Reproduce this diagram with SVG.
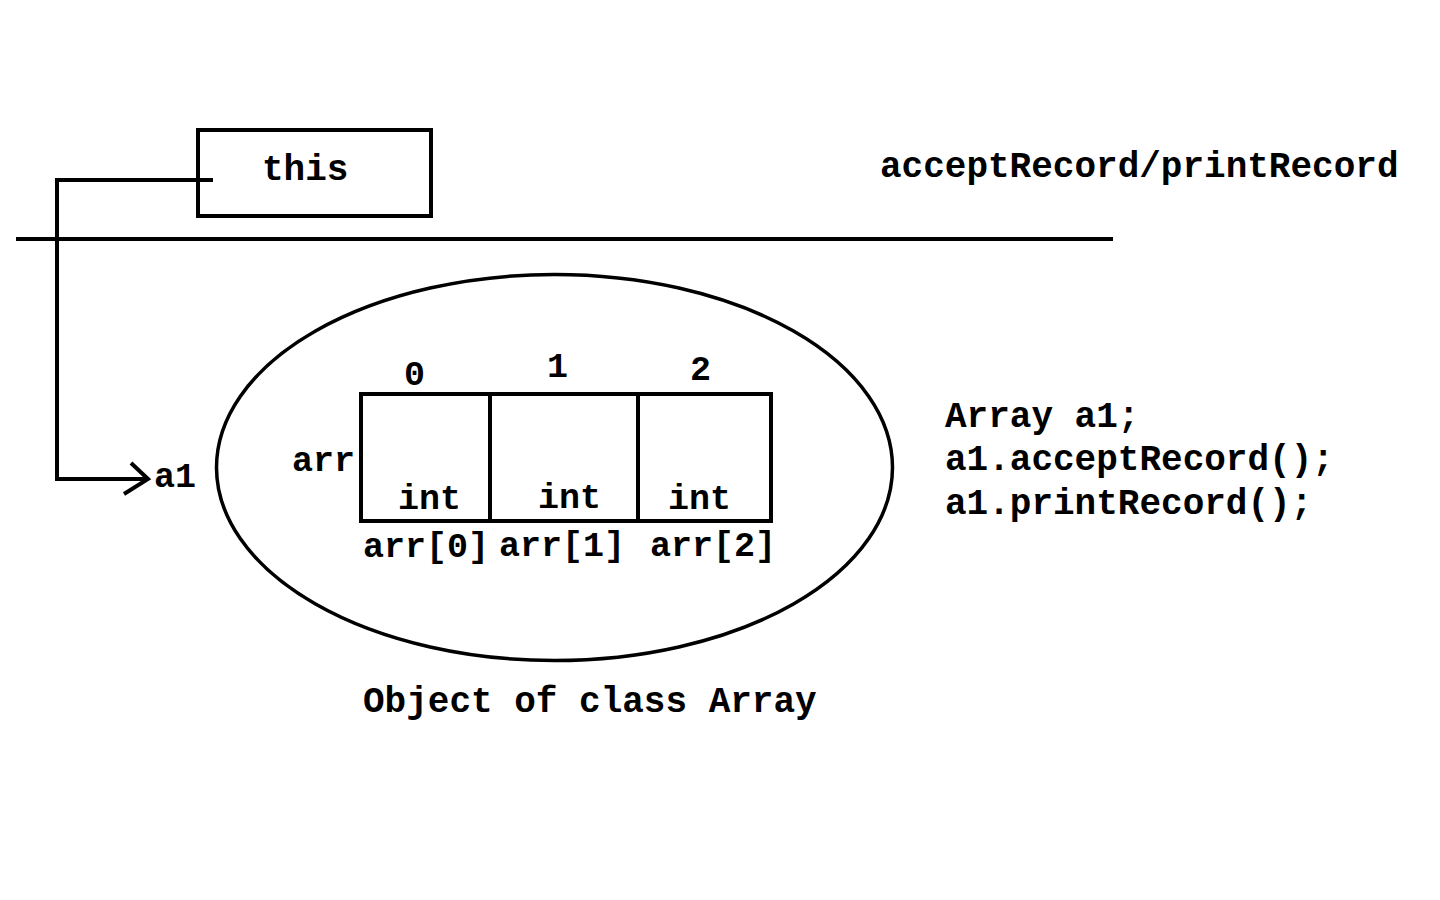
<svg xmlns="http://www.w3.org/2000/svg" width="1440" height="900" viewBox="0 0 1440 900">
<style>
text{font-family:"Liberation Mono","Courier New",monospace;font-weight:bold;font-size:36px;fill:#000}
.s{font-size:35px}
.ln{fill:none;stroke:#000;stroke-width:4}
.th{fill:none;stroke:#000;stroke-width:3.5}
</style>
<rect width="1440" height="900" fill="#fff"/>
<g id="this-box">
<rect class="ln" x="198" y="130" width="233" height="86"/>
<text x="262" y="180">this</text>
</g>
<g id="divider">
<line class="ln" x1="16" y1="239" x2="1113" y2="239"/>
</g>
<g id="method-label">
<text x="880" y="177">acceptRecord/printRecord</text>
</g>
<g id="a1-label">
<text class="s" x="154" y="487">a1</text>
</g>
<g id="object">
<ellipse class="th" cx="554.5" cy="467.5" rx="338" ry="193"/>
<text x="363" y="712">Object of class Array</text>
</g>
<g id="array">
<rect class="ln" x="361" y="394" width="410" height="127"/>
<line class="ln" x1="490" y1="394" x2="490" y2="521"/>
<line class="ln" x1="638" y1="394" x2="638" y2="521"/>
<text class="s" x="292" y="471">arr</text>
<text class="s" x="404" y="385">0</text>
<text class="s" x="547" y="377">1</text>
<text class="s" x="690" y="380">2</text>
<text class="s" x="398" y="509">int</text>
<text class="s" x="538" y="508">int</text>
<text class="s" x="668" y="509">int</text>
<text class="s" x="363" y="557">arr[0]</text>
<text class="s" x="499" y="556">arr[1]</text>
<text class="s" x="650" y="556">arr[2]</text>
</g>
<g id="code">
<text x="945" y="427">Array a1;</text>
<text x="945" y="470">a1.acceptRecord();</text>
<text x="945" y="514">a1.printRecord();</text>
</g>
<g id="connectors">
<polyline class="ln" points="213,180 57,180 57,479 148,479"/>
<polyline class="ln" points="131,463 148,479 124,494"/>
</g>
</svg>
